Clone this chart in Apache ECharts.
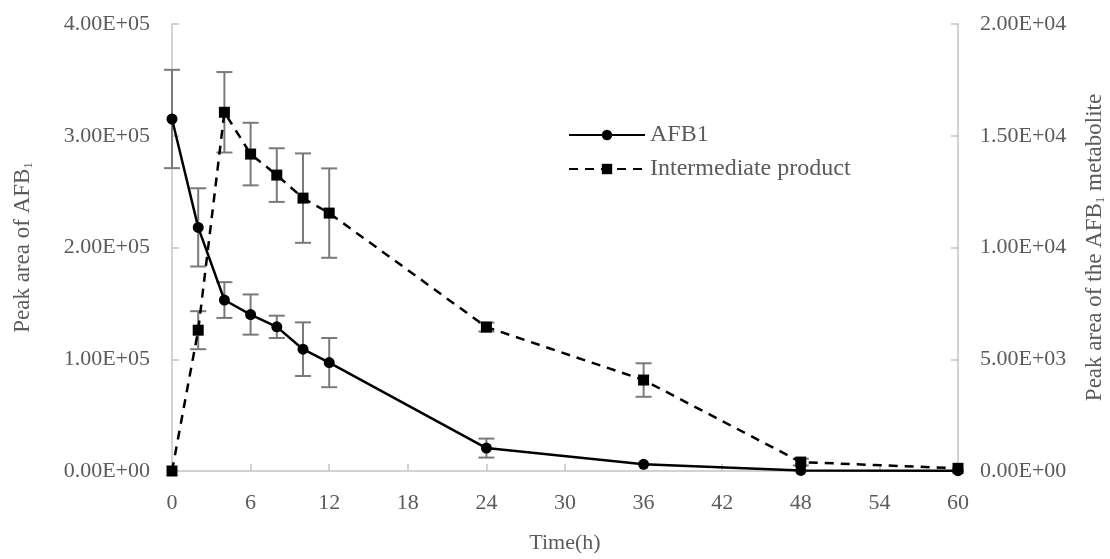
<!DOCTYPE html>
<html><head><meta charset="utf-8">
<script src="https://cdn.jsdelivr.net/npm/echarts@6/dist/echarts.min.js"></script>
<style>html,body{margin:0;padding:0;background:#fff}#c{width:1110px;height:559px}</style>
</head><body><div id="c"></div>
<script>
const times = [0, 2, 4, 6, 8, 10, 12, 24, 36, 48, 60];
const afb1 = [315000, 218000, 153000, 140000, 129000, 109000, 97000, 20500, 6000, 500, 300];
const afb1Err = [44000, 35000, 16000, 18000, 10000, 24000, 22000, 8500, 0, 0, 0];
const inter = [0, 6300, 16050, 14180, 13240, 12210, 11540, 6440, 4070, 400, 120];
const interErr = [0, 850, 1800, 1400, 1200, 2000, 2000, 200, 750, 150, 0];
const xTicks = [0, 6, 12, 18, 24, 30, 36, 42, 48, 54, 60];

const font = 'Liberation Serif';
const txt = '#5b5b5b';
const axisCol = '#c4c4c4';

function errData(vals, errs) {
  return times.map((t, i) => [t, vals[i] - errs[i], vals[i] + errs[i]]).filter((d, i) => errs[i] > 0);
}
function errRender(params, api) {
  const x = api.value(0);
  const lo = api.coord([x, api.value(1)]);
  const hi = api.coord([x, api.value(2)]);
  const w = 8;
  const st = { stroke: '#7a7a7a', lineWidth: 2, fill: null };
  return { type: 'group', children: [
    { type: 'line', shape: { x1: lo[0], y1: lo[1], x2: hi[0], y2: hi[1] }, style: st },
    { type: 'line', shape: { x1: lo[0] - w, y1: lo[1], x2: lo[0] + w, y2: lo[1] }, style: st },
    { type: 'line', shape: { x1: hi[0] - w, y1: hi[1], x2: hi[0] + w, y2: hi[1] }, style: st }
  ]};
}
function sci(v) {
  if (v === 0) return '0.00E+00';
  const e = Math.floor(Math.log10(v));
  const m = v / Math.pow(10, e);
  return m.toFixed(2) + 'E+' + String(e).padStart(2, '0');
}

const chart = echarts.init(document.getElementById('c'));
chart.setOption({
  animation: false,
  backgroundColor: '#fff',
  textStyle: { fontFamily: font, color: txt },
  grid: { left: 172, right: 152, top: 24, bottom: 88, outerBoundsMode: 'none', containLabel: false },
  legend: {
    orient: 'vertical', left: 563, top: 118, itemWidth: 76, itemHeight: 13, itemGap: 10,
    textStyle: { fontFamily: font, fontSize: 24, color: txt },
    data: ['AFB1', 'Intermediate product']
  },
  xAxis: {
    type: 'value', min: 0, max: 60, interval: 6,
    name: 'Time(h)', nameLocation: 'middle', nameGap: 61,
    nameTextStyle: { fontFamily: font, fontSize: 22, color: txt },
    axisLine: { show: true, lineStyle: { color: axisCol, width: 1.5 } },
    axisTick: { show: true, inside: true, length: 7, lineStyle: { color: axisCol, width: 1.5 } },
    axisLabel: { fontFamily: font, fontSize: 22, color: txt, margin: 21 },
    splitLine: { show: false }
  },
  yAxis: [{
    type: 'value', min: 0, max: 400000, interval: 100000, position: 'left',
    name: '{a|Peak area of AFB}{s|1}', nameLocation: 'middle', nameGap: 137, nameRotate: 90,
    nameTextStyle: { rich: {
      a: { fontFamily: font, fontSize: 23, color: txt },
      s: { fontFamily: font, fontSize: 13, color: txt, padding: [12, 0, 0, 0] }
    } },
    axisLine: { show: true, lineStyle: { color: axisCol, width: 1.5 } },
    axisTick: { show: true, inside: true, length: 7, lineStyle: { color: axisCol, width: 1.5 } },
    axisLabel: { fontFamily: font, fontSize: 22, color: txt, margin: 22, formatter: sci },
    splitLine: { show: false }
  }, {
    type: 'value', min: 0, max: 20000, interval: 5000, position: 'right',
    name: '{a|Peak area of the AFB}{s|1}{a| metabolite}', nameLocation: 'middle', nameGap: 124, nameRotate: 90,
    nameTextStyle: { rich: {
      a: { fontFamily: font, fontSize: 23, color: txt },
      s: { fontFamily: font, fontSize: 13, color: txt, padding: [12, 0, 0, 0] }
    } },
    axisLine: { show: true, lineStyle: { color: axisCol, width: 1.5 } },
    axisTick: { show: true, inside: true, length: 7, lineStyle: { color: axisCol, width: 1.5 } },
    axisLabel: { fontFamily: font, fontSize: 22, color: txt, margin: 22, formatter: sci },
    splitLine: { show: false }
  }],
  series: [
    { type: 'custom', yAxisIndex: 0, renderItem: errRender, data: errData(afb1, afb1Err), z: 1, encode: { x: 0, y: [1, 2] }, silent: true },
    { type: 'custom', yAxisIndex: 1, renderItem: errRender, data: errData(inter, interErr), z: 1, encode: { x: 0, y: [1, 2] }, silent: true },
    {
      name: 'Intermediate product', type: 'line', yAxisIndex: 1, z: 3,
      data: times.map((t, i) => [t, inter[i]]),
      symbol: 'rect', symbolSize: 11,
      lineStyle: { color: '#000', width: 2.5, type: [9, 7] },
      itemStyle: { color: '#000' }
    },
    {
      name: 'AFB1', type: 'line', yAxisIndex: 0, z: 4,
      data: times.map((t, i) => [t, afb1[i]]),
      symbol: 'circle', symbolSize: 11,
      lineStyle: { color: '#000', width: 2.5 },
      itemStyle: { color: '#000' }
    }
  ]
});
</script></body></html>
